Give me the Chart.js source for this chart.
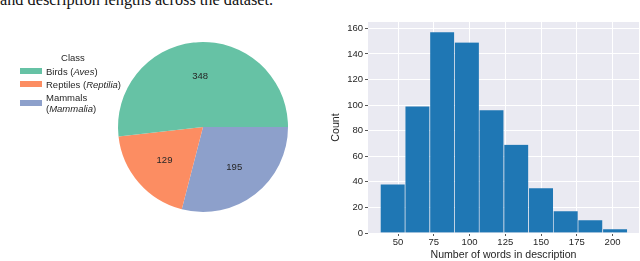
<!DOCTYPE html>
<html>
<head>
<meta charset="utf-8">
<script src="https://cdn.jsdelivr.net/npm/chart.js@4.4.1/dist/chart.umd.min.js"></script>
<style>
  html, body { margin: 0; padding: 0; background: #fff; }
  body {
    width: 640px; height: 261px; position: relative; overflow: hidden;
    font-family: 'Liberation Sans', Arial, sans-serif; color: #262626;
  }
  #caption {
    position: absolute; left: 0; top: -8px; line-height: 16px;
    font-family: 'Liberation Serif', 'Times New Roman', serif; font-size: 16.3px;
    white-space: nowrap; color: #111;
  }
  #pieBox { position: absolute; left: 0; top: 0; width: 320px; height: 261px; }
  #histBox { position: absolute; left: 320px; top: 0; width: 320px; height: 261px; }
  #legend { position: absolute; left: 20px; top: 51.5px; font-size: 9.5px; line-height: 11px; }
  #legend .title { text-align: center; margin-bottom: 3px; }
  #legend .row { display: flex; align-items: center; margin-bottom: 2px; }
  #legend .patch { width: 22px; height: 6px; margin-right: 4px; flex: none; }
  #legend .label { width: 80px; }
</style>
</head>
<body>
<div id="caption">and description lengths across the dataset.</div>
<div id="pieBox"><canvas id="pieChart"></canvas></div>
<div id="legend"></div>
<div id="histBox"><canvas id="histChart"></canvas></div>

<script>
// pie: animal classes
const classNames = ['Birds', 'Reptiles', 'Mammals'];
const latinNames = ['Aves', 'Reptilia', 'Mammalia'];
const classCounts = [348, 129, 195];
const classColors = ['#66c2a5', '#fc8d62', '#8da0cb'];

// histogram: words per description
const binEdges = [37.4, 54.7, 72.0, 89.3, 106.5, 123.8, 141.1, 158.4, 175.6, 192.9, 210.2];
const wordCounts = [38, 99, 157, 149, 96, 69, 35, 17, 10, 3];
const xTicks = [50, 75, 100, 125, 150, 175, 200];
const yTicks = [0, 20, 40, 60, 80, 100, 120, 140, 160];

Chart.defaults.font.family = "'Liberation Sans', Arial, sans-serif";
Chart.defaults.color = '#262626';
Chart.defaults.animation = false;

// legend (html so latin names can be italic)
const legendEl = document.getElementById('legend');
legendEl.innerHTML = '<div class="title">Class</div>';
classNames.forEach((name, i) => {
    const row = document.createElement('div');
    row.className = 'row';
    row.innerHTML = `<div class="patch" style="background:${classColors[i]}"></div>
        <div class="label">${name} (<i>${latinNames[i]}</i>)</div>`;
    legendEl.appendChild(row);
});

const sliceLabels = {
    id: 'sliceLabels',
    afterDatasetsDraw(chart) {
        const ctx = chart.ctx;
        const meta = chart.getDatasetMeta(0);
        const values = chart.data.datasets[0].data;
        ctx.save();
        ctx.font = "9.5px 'Liberation Sans'";
        ctx.fillStyle = '#262626';
        ctx.textAlign = 'center';
        ctx.textBaseline = 'middle';
        meta.data.forEach((arc, i) => {
            const p = arc.getProps(['x', 'y', 'startAngle', 'endAngle', 'outerRadius'], true);
            const mid = (p.startAngle + p.endAngle) / 2;
            const r = p.outerRadius * 0.6;
            ctx.fillText(values[i], p.x + Math.cos(mid) * r, p.y + Math.sin(mid) * r);
        });
        ctx.restore();
    }
};

// matplotlib goes counter-clockwise from 3 o'clock, chart.js clockwise -> reverse
new Chart(document.getElementById('pieChart'), {
    type: 'pie',
    data: {
        labels: classNames.slice().reverse(),
        datasets: [{
            data: classCounts.slice().reverse(),
            backgroundColor: classColors.slice().reverse(),
            borderWidth: 0
        }]
    },
    options: {
        responsive: true,
        maintainAspectRatio: false,
        rotation: 90,
        layout: { padding: { left: 118, right: 32, top: 42, bottom: 49 } },
        plugins: { legend: { display: false }, tooltip: { enabled: false } }
    },
    plugins: [sliceLabels]
});

const darkgrid = {
    id: 'darkgrid',
    beforeDraw(chart) {
        const { ctx, chartArea: a } = chart;
        ctx.save();
        ctx.fillStyle = '#eaeaf2';
        ctx.fillRect(a.left, a.top, a.right - a.left, a.bottom - a.top);
        ctx.restore();
    }
};

const bars = wordCounts.map((c, i) => ({ x: (binEdges[i] + binEdges[i + 1]) / 2, y: c }));

new Chart(document.getElementById('histChart'), {
    type: 'bar',
    data: {
        datasets: [{
            data: bars,
            backgroundColor: '#1f77b4',
            borderColor: 'rgba(255,255,255,0.08)',
            borderWidth: { left: 1, right: 0, top: 0, bottom: 0 },
            borderSkipped: false,
            barPercentage: 1,
            categoryPercentage: 1
        }]
    },
    options: {
        responsive: true,
        maintainAspectRatio: false,
        layout: { padding: { top: 22, right: 1, left: 0, bottom: 0 } },
        plugins: { legend: { display: false }, tooltip: { enabled: false } },
        scales: {
            x: {
                type: 'linear',
                min: 29,
                max: 218.5,
                offset: false,
                afterBuildTicks: axis => { axis.ticks = xTicks.map(v => ({ value: v })); },
                afterFit: axis => { axis.height = 28; },
                grid: { color: '#fff', offset: false, tickColor: '#555', tickLength: 3 },
                border: { display: false },
                ticks: { font: { size: 9.5 }, color: '#262626', padding: 1, maxRotation: 0 },
                title: {
                    display: true, text: 'Number of words in description',
                    font: { size: 10.6 }, color: '#262626', padding: { top: 0, bottom: 0 }
                }
            },
            y: {
                min: 0,
                max: 165,
                afterBuildTicks: axis => { axis.ticks = yTicks.map(v => ({ value: v })); },
                afterFit: axis => { axis.width = 48; },
                grid: { color: '#fff', tickColor: '#555', tickLength: 3 },
                border: { display: false },
                ticks: { font: { size: 9.5 }, color: '#262626', padding: 2 },
                title: {
                    display: true, text: 'Count',
                    font: { size: 10.6 }, color: '#262626', padding: { top: 10, bottom: 0 }
                }
            }
        }
    },
    plugins: [darkgrid]
});
</script>
</body>
</html>
